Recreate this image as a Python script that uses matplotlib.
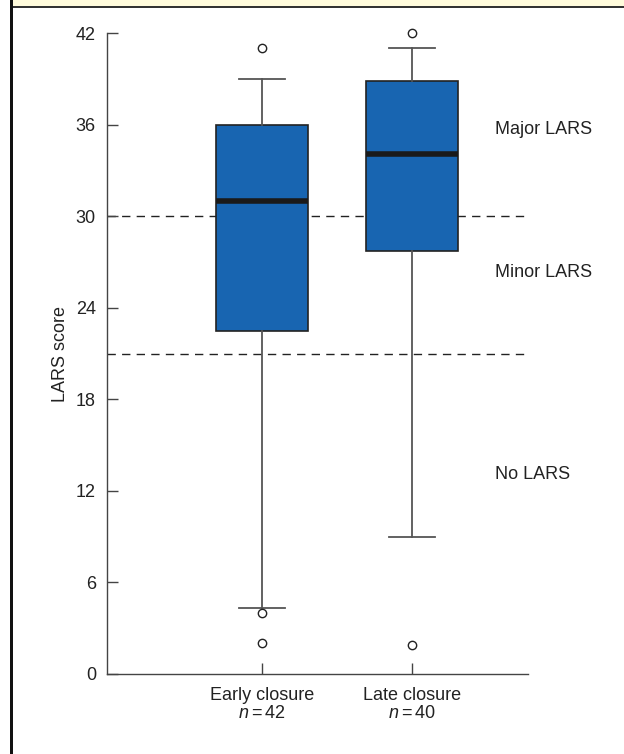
import matplotlib.pyplot as plt
from matplotlib.patches import Rectangle

plt.rcParams['font.family'] = ['Liberation Sans', 'DejaVu Sans']
plt.rcParams['mathtext.fontset'] = 'custom'
plt.rcParams['mathtext.rm'] = 'Liberation Sans'
plt.rcParams['mathtext.it'] = 'Liberation Sans:italic'

# box plot summary
groups = ["Early closure", "Late closure"]
n_patients = [42, 40]
medians = [31.0, 34.1]
q1 = [22.5, 27.7]
q3 = [36.0, 38.85]
whisker_low = [4.35, 8.95]
whisker_high = [39.0, 41.0]
outliers = [[41.0, 4.0, 2.0], [42.0, 1.9]]

cutoffs = [21, 30]
zone_names = ["Major LARS", "Minor LARS", "No LARS"]
zone_y = [35.7, 26.3, 13.1]

stats = []
for i in range(len(groups)):
    stats.append({
        'med': medians[i], 'q1': q1[i], 'q3': q3[i],
        'whislo': whisker_low[i], 'whishi': whisker_high[i],
        'fliers': outliers[i], 'label': f"{groups[i]}\n$n = {n_patients[i]}$",
    })

fig = plt.figure(figsize=(6.24, 7.54), dpi=100)
ax = fig.add_axes([107 / 624, 1 - 674 / 754, 421 / 624, 641 / 754])

# page decoration: yellow band on top, black bar on the left
fig.add_artist(Rectangle((13 / 624, 1 - 6 / 754), 1, 6 / 754, transform=fig.transFigure,
                         facecolor='#fffbdc', edgecolor='none'))
fig.add_artist(Rectangle((13 / 624, 1 - 7.5 / 754), 1, 1.5 / 754, transform=fig.transFigure,
                         facecolor='#333333', edgecolor='none'))
fig.add_artist(Rectangle((10 / 624, 0), 3 / 624, 1, transform=fig.transFigure,
                         facecolor='#111111', edgecolor='none'))

for c in cutoffs:
    ax.axhline(c, color='#222222', lw=1.0, dashes=(6, 4.5), zorder=1)

bp = ax.bxp(stats, positions=[1, 2], widths=0.613, patch_artist=True,
            boxprops=dict(facecolor='#1865b1', edgecolor='#222222', lw=1.2),
            medianprops=dict(color='#1a1a1a', lw=4.0, solid_capstyle='butt'),
            whiskerprops=dict(color='#555555', lw=1.3),
            capprops=dict(color='#555555', lw=1.3),
            flierprops=dict(marker='o', markerfacecolor='white', markeredgecolor='#222222',
                            markersize=6, markeredgewidth=1.0),
            zorder=2)
for f in bp['fliers']:
    f.set_clip_on(False)

for name, y in zip(zone_names, zone_y):
    ax.text(2.553, y, name, fontsize=13, color='#222222', ha='left', va='center', clip_on=False)

ax.set_xlim(-0.033, 2.773)
ax.set_ylim(0, 42)
ax.set_yticks(range(0, 43, 6))
ax.set_ylabel("LARS score", fontsize=13, color='#222222', labelpad=5)

for side in ['top', 'right']:
    ax.spines[side].set_visible(False)
for side in ['left', 'bottom']:
    ax.spines[side].set_color('#444444')
    ax.spines[side].set_linewidth(1.0)

ax.tick_params(axis='both', direction='in', length=8, width=1.0, color='#444444',
               labelsize=13, labelcolor='#222222', pad=8)
ax.tick_params(axis='x', pad=9)
for lbl in ax.get_xticklabels():
    lbl.set_linespacing(1.1)

fig.savefig("out.png", dpi=100)
